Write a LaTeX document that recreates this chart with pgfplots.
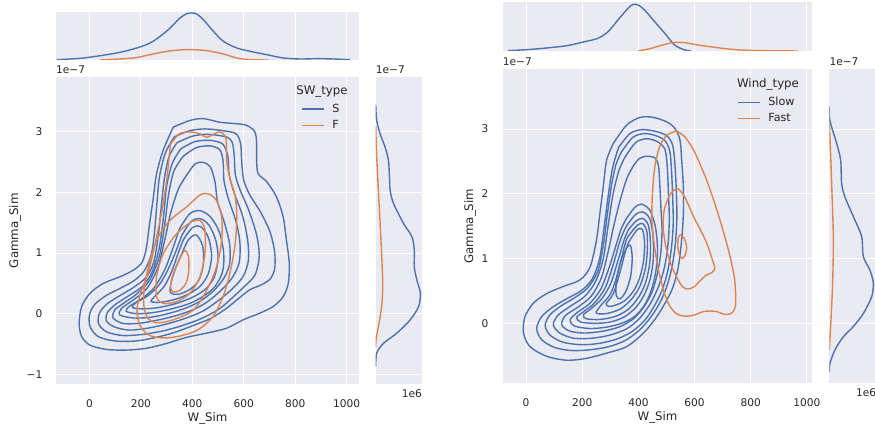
\documentclass[border=0pt]{standalone}
\usepackage{fontspec}
\setmainfont{DejaVu Sans}
\usepackage{pgfplots}
\pgfplotsset{compat=1.18}
\definecolor{sbbg}{HTML}{EAEAF2}
\definecolor{sbblue}{HTML}{4C72B0}
\definecolor{sborange}{HTML}{DD8452}
\definecolor{tx}{HTML}{262626}
\pgfplotsset{
 base/.style={scale only axis, axis background/.style={fill=sbbg}, axis line style={draw=none}, tick style={draw=none},
   major grid style={white, line width=1pt}, ticklabel style={font=\fontsize{10.6}{12}\selectfont, text=tx},
   label style={font=\fontsize{11.8}{14}\selectfont, text=tx}},
 bl/.style={sbblue, line width=1.4pt, smooth, forget plot},
 or/.style={sborange, line width=1.4pt, smooth, forget plot},
 lg/.style={legend style={draw=none, fill=none, anchor=north west, font=\fontsize{11.2}{13}\selectfont, text=tx, row sep=2.5pt, inner sep=0pt, nodes={inner sep=2pt}},
   legend image code/.code={\draw[##1] (0pt,0pt) -- (22pt,0pt); \path (28pt,0pt);}, legend cell align=left},
}
\newcommand\fs{\fontsize{10.6}{12}\selectfont\color{tx}}
\begin{document}
\begin{tikzpicture}
\path[use as bounding box] (0pt,0pt) rectangle (875pt,430pt);
% ===================== LEFT PANEL =====================
\begin{axis}[base, lg, name=mL, at={(56pt,45.7pt)}, anchor=south west, width=303pt, height=307.3pt,
  xmin=-130, xmax=1048, ymin=-1.165, ymax=3.907, grid=major,
  xtick={0,200,400,600,800,1000}, xticklabels={0,200,400,600,800,1000},
  ytick={-1,0,1,2,3}, yticklabels={−1,0,1,2,3},
  xticklabel style={anchor=center, yshift=-19pt}, yticklabel style={xshift=-10.2pt},
  xlabel={W\_Sim}, ylabel={Gamma\_Sim},
  xlabel style={at={(axis description cs:0.5,-0.11)}, anchor=center},
  ylabel style={at={(axis description cs:-0.135,0.5)}, anchor=center},
  legend style={at={(0.808,0.919)}}]
\addplot[bl] coordinates {(326,3.08)(391,3.19)(443,3.22)(507,3.16)(559,3.14)(611,3.11)(643,3.0)(650,2.81)(650,2.53)(656,2.31)(689,2.18)(727,1.93)(753,1.6)(766,1.21)(777,0.83)(773,0.5)(753,0.28)(715,0.12)(663,0.01)(598,-0.1)(533,-0.24)(456,-0.32)(378,-0.39)(300,-0.49)(223,-0.57)(145,-0.6)(67,-0.59)(3,-0.52)(-30,-0.38)(-40,-0.16)(-30,0.12)(3,0.34)(54,0.5)(119,0.61)(171,0.72)(205,0.85)(222,1.1)(232,1.43)(247,1.87)(261,2.31)(287,2.7)(326,3.08)};
\addplot[bl] coordinates {(330,2.92)(390,3.02)(450,3.05)(520,3.02)(570,2.97)(588,2.8)(592,2.5)(600,2.2)(625,1.95)(665,1.68)(702,1.35)(720,1.02)(720,0.74)(702,0.57)(665,0.47)(625,0.4)(585,0.27)(530,0.08)(470,-0.08)(400,-0.2)(330,-0.31)(260,-0.39)(180,-0.45)(100,-0.45)(35,-0.38)(3,-0.22)(0,-0.02)(20,0.15)(65,0.3)(120,0.42)(175,0.55)(215,0.72)(240,0.97)(252,1.3)(262,1.8)(272,2.25)(295,2.65)(330,2.92)};
\addplot[bl] coordinates {(340,2.82)(400,2.93)(460,2.96)(530,2.92)(555,2.83)(563,2.6)(567,2.3)(585,2.05)(620,1.7)(650,1.3)(660,0.95)(645,0.65)(610,0.48)(565,0.3)(505,0.08)(435,-0.08)(365,-0.19)(290,-0.28)(210,-0.34)(130,-0.36)(67,-0.3)(36,-0.17)(38,0.0)(65,0.15)(115,0.29)(170,0.43)(220,0.6)(250,0.85)(268,1.3)(280,1.8)(292,2.25)(310,2.6)(340,2.82)};
\addplot[bl] coordinates {(355,2.72)(410,2.84)(470,2.86)(518,2.8)(538,2.6)(543,2.3)(562,2.0)(595,1.62)(615,1.22)(618,0.88)(598,0.62)(558,0.42)(502,0.22)(440,0.04)(370,-0.08)(300,-0.17)(225,-0.24)(155,-0.27)(98,-0.22)(66,-0.12)(70,0.02)(100,0.15)(150,0.29)(205,0.45)(245,0.7)(272,1.1)(288,1.6)(300,2.1)(322,2.48)(355,2.72)};
\addplot[bl] coordinates {(365,2.6)(415,2.74)(470,2.77)(508,2.7)(520,2.5)(523,2.2)(540,1.9)(570,1.52)(585,1.17)(582,0.84)(556,0.6)(515,0.4)(460,0.2)(400,0.06)(330,-0.04)(260,-0.11)(190,-0.16)(130,-0.16)(92,-0.07)(98,0.06)(135,0.18)(185,0.33)(235,0.56)(272,0.95)(292,1.45)(307,1.95)(328,2.35)(365,2.6)};
\addplot[bl] coordinates {(380,2.3)(410,2.47)(440,2.5)(470,2.42)(488,2.18)(498,1.85)(525,1.5)(545,1.15)(545,0.82)(522,0.58)(483,0.38)(432,0.21)(373,0.09)(305,0.0)(235,-0.06)(170,-0.07)(118,-0.02)(125,0.09)(168,0.22)(222,0.41)(265,0.75)(292,1.2)(315,1.65)(345,2.05)(380,2.3)};
\addplot[bl] coordinates {(350,1.4)(390,1.65)(430,1.7)(470,1.6)(505,1.35)(522,1.0)(518,0.7)(490,0.46)(447,0.3)(390,0.17)(320,0.08)(250,0.02)(185,0.0)(143,0.04)(155,0.12)(200,0.24)(250,0.42)(292,0.72)(322,1.05)(350,1.4)};
\addplot[bl] coordinates {(360,1.3)(395,1.52)(430,1.57)(465,1.46)(492,1.2)(500,0.9)(485,0.6)(452,0.41)(405,0.28)(345,0.18)(280,0.11)(215,0.08)(168,0.1)(180,0.18)(225,0.29)(272,0.48)(308,0.75)(335,1.02)(360,1.3)};
\addplot[bl] coordinates {(365,1.22)(400,1.42)(432,1.44)(462,1.26)(475,0.96)(462,0.66)(432,0.46)(388,0.33)(335,0.24)(280,0.19)(240,0.2)(255,0.29)(292,0.46)(322,0.72)(345,1.0)(365,1.22)};
\addplot[bl] coordinates {(360,1.0)(385,1.22)(415,1.3)(440,1.12)(443,0.82)(425,0.55)(390,0.4)(345,0.32)(315,0.35)(318,0.52)(335,0.75)(360,1.0)};
\addplot[or] coordinates {(315,2.8)(350,2.97)(390,3.0)(430,2.97)(456,2.91)(495,2.99)(515,2.99)(531,2.88)(534,2.5)(547,2.22)(566,1.95)(573,1.6)(566,1.13)(547,0.69)(521,0.3)(480,-0.05)(420,-0.27)(350,-0.37)(285,-0.4)(230,-0.35)(195,-0.18)(185,0.08)(200,0.35)(230,0.7)(255,1.15)(282,1.7)(300,2.2)(315,2.8)};
\addplot[or] coordinates {(378,1.76)(430,1.96)(462,1.98)(494,1.87)(514,1.6)(514,1.21)(494,0.77)(456,0.39)(404,0.06)(326,-0.1)(261,-0.15)(223,-0.05)(210,0.23)(223,0.66)(261,1.21)(313,1.54)(378,1.76)};
\addplot[or] coordinates {(397,1.52)(430,1.54)(449,1.38)(449,0.99)(430,0.61)(391,0.34)(339,0.2)(287,0.17)(261,0.28)(261,0.61)(287,0.99)(339,1.32)(397,1.52)};
\addplot[or] coordinates {(372,1.05)(385,0.95)(386,0.7)(375,0.5)(350,0.38)(325,0.36)(315,0.45)(325,0.65)(345,0.85)(362,1.0)(372,1.05)};
\addlegendimage{sbblue, line width=1.4pt}\addlegendentry{S}
\addlegendimage{sborange, line width=1.4pt}\addlegendentry{F}
\end{axis}
\node[font=\fontsize{11.8}{14}\selectfont, text=tx] at (322pt,338pt) {SW\_type};
\begin{axis}[base, name=tL, at={(56pt,370pt)}, anchor=south west, width=303pt, height=48pt,
  xmin=-130, xmax=1048, ymin=0, ymax=144, xtick={0,200,400,600,800,1000}, xticklabels={}, ytick=\empty, xmajorgrids]
\addplot[bl] coordinates {(-127,1)(-23,6)(106,21)(184,36)(236,51)(275,71)(314,96)(352,126)(379,139)(398,141)(417,138)(443,121)(482,86)(521,56)(573,36)(625,26)(689,16)(754,6)(819,3)(884,4)(948,3)(1013,1)};
\addplot[or] coordinates {(42,0)(171,6)(236,16)(301,26)(366,31)(404,31)(456,28)(521,18)(573,6)(625,1)(700,0)};
\end{axis}
\begin{axis}[base, name=rL, at={(375.7pt,45.7pt)}, anchor=south west, width=46.3pt, height=307.3pt,
  xmin=0, xmax=138, ymin=-1.165, ymax=3.907, xtick=\empty, ytick={-1,0,1,2,3}, yticklabels={}, ymajorgrids]
\addplot[bl] coordinates {(0,3.45)(3,3.19)(13,2.97)(28,2.75)(38,2.53)(41,2.26)(43,2.04)(53,1.82)(83,1.49)(108,1.27)(115,1.05)(115,0.77)(123,0.55)(133,0.34)(128,0.12)(103,-0.1)(63,-0.32)(23,-0.49)(3,-0.65)(0,-0.87)};
\addplot[or] coordinates {(0,3.1)(3,2.6)(8,2.04)(14,1.4)(18,0.94)(21,0.5)(19,0.2)(15,0.01)(8,-0.21)(1,-0.43)(0,-0.55)};
\end{axis}
\node[anchor=west, inner sep=0pt, yshift=7.3pt] at (mL.north west) {\fs 1e−7};
\node[anchor=west, inner sep=0pt, yshift=7.3pt] at (rL.north west) {\fs 1e−7};
\node[anchor=east, inner sep=0pt, yshift=-9pt] at (rL.south east) {\fs 1e6};
% ===================== RIGHT PANEL =====================
\begin{axis}[base, lg, name=mR, at={(502.7pt,46.7pt)}, anchor=south west, width=309.6pt, height=314.3pt,
  xmin=-83, xmax=1019, ymin=-0.926, ymax=3.927, grid=major,
  xtick={0,200,400,600,800,1000}, xticklabels={0,200,400,600,800,1000},
  ytick={0,1,2,3}, yticklabels={0,1,2,3},
  xticklabel style={anchor=center, yshift=-19.4pt}, yticklabel style={xshift=-10.9pt},
  xlabel={W\_Sim}, ylabel={Gamma\_Sim},
  xlabel style={at={(axis description cs:0.5,-0.11)}, anchor=center},
  ylabel style={at={(axis description cs:-0.1056,0.5)}, anchor=center},
  legend style={at={(0.756,0.917)}}]
\addplot[bl] coordinates {(311,2.78)(358,3.06)(406,3.18)(453,3.18)(501,3.11)(530,3.01)(548,2.83)(554,2.52)(560,2.11)(560,1.7)(554,1.29)(542,0.87)(524,0.57)(501,0.36)(465,0.1)(418,-0.15)(358,-0.36)(287,-0.46)(216,-0.54)(145,-0.57)(74,-0.51)(14,-0.36)(-9,-0.15)(-4,0.1)(26,0.31)(74,0.46)(133,0.57)(192,0.67)(228,0.87)(251,1.29)(263,1.7)(275,2.11)(287,2.52)(311,2.78)};
\addplot[bl] coordinates {(330,2.72)(370,2.93)(410,2.99)(455,2.97)(500,2.9)(522,2.75)(530,2.45)(535,2.05)(537,1.65)(532,1.25)(520,0.88)(502,0.58)(478,0.33)(445,0.1)(405,-0.1)(355,-0.26)(295,-0.36)(225,-0.41)(160,-0.42)(100,-0.37)(55,-0.25)(38,-0.08)(55,0.1)(95,0.25)(145,0.38)(195,0.5)(235,0.68)(262,1.0)(277,1.45)(292,1.95)(308,2.4)(330,2.72)};
\addplot[bl] coordinates {(340,2.65)(380,2.87)(420,2.93)(460,2.9)(495,2.82)(512,2.65)(518,2.35)(522,1.95)(524,1.55)(518,1.18)(505,0.82)(485,0.52)(458,0.28)(425,0.06)(380,-0.12)(325,-0.24)(260,-0.31)(195,-0.33)(130,-0.29)(85,-0.18)(68,-0.03)(85,0.13)(125,0.27)(175,0.4)(220,0.55)(255,0.8)(275,1.2)(290,1.7)(305,2.15)(320,2.45)(340,2.65)};
\addplot[bl] coordinates {(350,2.55)(390,2.79)(430,2.85)(470,2.8)(495,2.68)(503,2.4)(507,2.0)(510,1.6)(505,1.2)(492,0.85)(470,0.55)(442,0.3)(405,0.08)(360,-0.08)(300,-0.18)(235,-0.23)(170,-0.23)(120,-0.15)(97,-0.02)(115,0.13)(160,0.27)(210,0.42)(248,0.65)(275,1.0)(292,1.5)(310,2.0)(330,2.35)(350,2.55)};
\addplot[bl] coordinates {(385,2.45)(405,2.55)(432,2.58)(460,2.55)(472,2.42)(476,2.15)(480,1.8)(484,1.45)(480,1.1)(468,0.78)(450,0.5)(422,0.27)(385,0.08)(335,-0.05)(275,-0.12)(210,-0.15)(155,-0.12)(127,-0.02)(140,0.12)(185,0.25)(232,0.42)(268,0.7)(292,1.1)(312,1.5)(335,1.9)(360,2.25)(385,2.45)};
\addplot[bl] coordinates {(355,1.6)(385,1.78)(410,1.84)(440,1.75)(460,1.5)(468,1.15)(462,0.8)(445,0.5)(420,0.27)(385,0.1)(340,0.0)(285,-0.06)(225,-0.08)(172,-0.04)(157,0.05)(180,0.16)(225,0.3)(265,0.52)(295,0.85)(320,1.2)(338,1.45)(355,1.6)};
\addplot[bl] coordinates {(360,1.52)(390,1.68)(415,1.72)(440,1.62)(452,1.35)(453,1.0)(443,0.7)(422,0.45)(392,0.25)(350,0.1)(300,0.02)(245,0.0)(195,0.02)(180,0.09)(205,0.18)(245,0.32)(282,0.55)(310,0.9)(333,1.25)(348,1.42)(360,1.52)};
\addplot[bl] coordinates {(365,1.45)(392,1.58)(415,1.62)(435,1.52)(443,1.25)(440,0.92)(425,0.62)(400,0.4)(365,0.22)(320,0.11)(265,0.06)(215,0.07)(204,0.13)(230,0.22)(270,0.38)(302,0.62)(328,0.98)(350,1.3)(365,1.45)};
\addplot[bl] coordinates {(370,1.38)(395,1.51)(415,1.54)(430,1.42)(432,1.15)(425,0.85)(405,0.57)(375,0.37)(335,0.22)(285,0.15)(250,0.16)(265,0.27)(300,0.45)(325,0.75)(345,1.1)(358,1.3)(370,1.38)};
\addplot[bl] coordinates {(375,1.32)(397,1.45)(414,1.45)(422,1.25)(418,0.95)(402,0.67)(378,0.47)(345,0.33)(300,0.26)(285,0.3)(310,0.45)(332,0.75)(350,1.05)(362,1.22)(375,1.32)};
\addplot[bl] coordinates {(345,1.05)(360,1.18)(372,1.2)(378,1.0)(372,0.72)(356,0.5)(336,0.38)(322,0.42)(320,0.6)(330,0.85)(345,1.05)};
\addplot[or] coordinates {(536,2.97)(565,2.88)(596,2.68)(620,2.45)(643,2.21)(668,1.9)(690,1.6)(710,1.3)(728,1.0)(742,0.7)(746,0.45)(745,0.25)(730,0.15)(705,0.14)(680,0.18)(655,0.19)(630,0.18)(600,0.13)(565,0.11)(535,0.15)(510,0.28)(490,0.5)(470,0.85)(457,1.2)(448,1.6)(450,2.0)(458,2.4)(475,2.72)(500,2.9)(536,2.97)};
\addplot[or] coordinates {(542,2.08)(565,1.95)(596,1.65)(620,1.45)(643,1.24)(662,1.0)(672,0.85)(660,0.78)(640,0.74)(620,0.66)(600,0.57)(578,0.53)(558,0.56)(538,0.7)(515,0.92)(497,1.2)(488,1.5)(492,1.75)(510,1.97)(528,2.06)(542,2.08)};
\addplot[or] coordinates {(548,1.37)(562,1.32)(572,1.18)(566,1.05)(555,1.0)(545,1.07)(540,1.2)(542,1.32)(548,1.37)};
\addlegendimage{sbblue, line width=1.4pt}\addlegendentry{Slow}
\addlegendimage{sborange, line width=1.4pt}\addlegendentry{Fast}
\end{axis}
\node[font=\fontsize{11.8}{14}\selectfont, text=tx] at (768pt,346pt) {Wind\_type};
\begin{axis}[base, name=tR, at={(502.7pt,379pt)}, anchor=south west, width=309.6pt, height=49.3pt,
  xmin=-83, xmax=1019, ymin=0, ymax=148, xtick={0,200,400,600,800,1000}, xticklabels={}, ytick=\empty, xmajorgrids]
\addplot[bl] coordinates {(-64,1)(19,5)(138,15)(209,28)(256,38)(292,58)(327,93)(363,128)(381,140)(399,138)(422,123)(458,88)(494,53)(529,18)(565,3)(588,0)};
\addplot[or] coordinates {(399,0)(446,8)(494,20)(529,26)(565,25)(612,18)(672,11)(731,5)(790,2)(850,1)(968,0)};
\end{axis}
\begin{axis}[base, name=rR, at={(829.3pt,46.7pt)}, anchor=south west, width=47pt, height=314.3pt,
  xmin=0, xmax=141, ymin=-0.926, ymax=3.927, xtick=\empty, ytick={0,1,2,3}, yticklabels={}, ymajorgrids]
\addplot[bl] coordinates {(0,3.35)(0,3.19)(7,3.03)(22,2.78)(34,2.52)(37,2.16)(47,1.95)(72,1.65)(97,1.34)(102,1.03)(122,0.82)(132,0.62)(127,0.41)(102,0.15)(72,-0.05)(42,-0.21)(17,-0.41)(2,-0.62)(0,-0.75)};
\addplot[or] coordinates {(0,3.1)(4,2.6)(7,2.16)(12,1.34)(10,0.62)(4,-0.05)(0,-0.41)};
\end{axis}
\node[anchor=west, inner sep=0pt, yshift=7.3pt] at (mR.north west) {\fs 1e−7};
\node[anchor=west, inner sep=0pt, yshift=7.3pt] at (rR.north west) {\fs 1e−7};
\node[anchor=east, inner sep=0pt, yshift=-9.4pt] at (rR.south east) {\fs 1e6};
\end{tikzpicture}
\end{document}
